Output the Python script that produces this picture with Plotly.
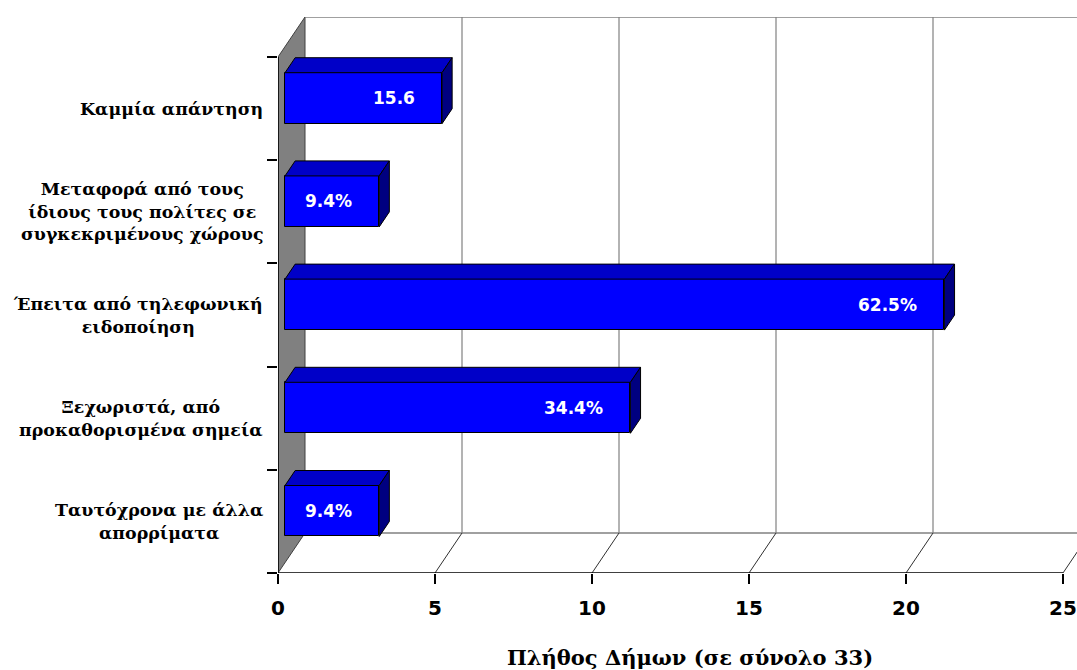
import plotly.graph_objects as go

# Survey answers (bottom to top) and number of municipalities per answer
categories = [
    "Ταυτόχρονα με άλλα<br>απορρίματα",
    "Ξεχωριστά, από<br>προκαθορισμένα σημεία",
    "Έπειτα από τηλεφωνική<br>ειδοποίηση",
    "Μεταφορά από τους<br>ίδιους τους πολίτες σε<br>συγκεκριμένους χώρους",
    "Καμμία απάντηση",
]
counts = [3, 11, 21, 3, 5]
value_labels = ["9.4%", "34.4%", "62.5%", "9.4%", "15.6"]
x_ticks = [0, 5, 10, 15, 20, 25]
x_title = "Πλήθος Δήμων (σε σύνολο 33)"

# Pseudo-3D geometry (in axis units)
W, H = 1077, 670
L, R, T, B = 278, 0, 17, 97
PX_X = 31.4                      # pixels per x unit
PX_Y = (H - T - B) / 5.388       # pixels per y unit
DX = 27 / PX_X                   # full depth, x shift
DY = 40 / PX_Y                   # full depth, y shift
X_MAX = (W - L - R) / PX_X
Y_MAX = 5 + DY
F0, F1 = 0.26, 0.635             # bar front / back depth
HALF = 0.247                     # half bar thickness
N = len(categories)

WALL = "#808080"
GRID = "#808080"
FRONT = "#0000FF"
TOP = "#0000C8"
SIDE = "#000080"

shapes = []
# left wall
shapes.append(dict(type="path", xref="x", yref="y", layer="below",
                   path=f"M 0 0 L 0 {N} L {DX} {N + DY} L {DX} {DY} Z",
                   fillcolor=WALL, line=dict(color="#404040", width=1)))
# back wall frame
shapes.append(dict(type="line", xref="x", yref="y", layer="below",
                   x0=DX, x1=X_MAX + DX, y0=N + DY, y1=N + DY,
                   line=dict(color=GRID, width=1.5)))
shapes.append(dict(type="line", xref="x", yref="y", layer="below",
                   x0=DX, x1=X_MAX + DX, y0=DY, y1=DY,
                   line=dict(color=GRID, width=1.5)))
for k in x_ticks[1:]:
    # vertical grid on back wall
    shapes.append(dict(type="line", xref="x", yref="y", layer="below",
                       x0=k + DX, x1=k + DX, y0=DY, y1=N + DY,
                       line=dict(color=GRID, width=1.2)))
    # floor grid
    shapes.append(dict(type="line", xref="x", yref="y", layer="below",
                       x0=k, x1=k + DX, y0=0, y1=DY,
                       line=dict(color="#303030", width=1)))
# front axis lines
shapes.append(dict(type="line", xref="x", yref="y", layer="below",
                   x0=0, x1=x_ticks[-1], y0=0, y1=0,
                   line=dict(color="black", width=1.5)))
shapes.append(dict(type="line", xref="x", yref="y", layer="below",
                   x0=0, x1=0, y0=0, y1=N,
                   line=dict(color="black", width=1.5)))

# bar top and side faces
centers = [i + 0.5 for i in range(N)]
dd = (F1 - F0) * DY
ddx = (F1 - F0) * DX
for c, v in zip(centers, counts):
    yt = c + HALF + F0 * DY
    yb = c - HALF + F0 * DY
    xs = F0 * DX
    xe = v + F0 * DX
    shapes.append(dict(type="path", xref="x", yref="y", layer="above",
                       path=f"M {xs} {yt} L {xs + ddx} {yt + dd} L {xe + ddx} {yt + dd} L {xe} {yt} Z",
                       fillcolor=TOP, line=dict(color="black", width=1)))
    shapes.append(dict(type="path", xref="x", yref="y", layer="above",
                       path=f"M {xe} {yb} L {xe} {yt} L {xe + ddx} {yt + dd} L {xe + ddx} {yb + dd} Z",
                       fillcolor=SIDE, line=dict(color="black", width=1)))

fig = go.Figure()
fig.add_trace(go.Bar(
    y=[c + F0 * DY for c in centers], x=counts, base=F0 * DX,
    orientation="h", width=2 * HALF,
    marker=dict(color=FRONT, line=dict(color="black", width=1)),
    hoverinfo="skip", showlegend=False,
))

annotations = []
for c, v, t in zip(centers, counts, value_labels):
    annotations.append(dict(x=v + F0 * DX - 0.8, y=c + F0 * DY, xref="x", yref="y",
                            text=t, showarrow=False, xanchor="right", yanchor="middle",
                            font=dict(family="DejaVu Sans", size=17, color="white", weight="bold")))
for c, t in zip(centers, categories):
    annotations.append(dict(x=-(13 / (W - L - R)), y=c, xref="paper", yref="y",
                            text=t, showarrow=False, xanchor="right", yanchor="middle",
                            align="center",
                            font=dict(family="DejaVu Serif", size=17.4, color="black", weight="bold")))
annotations.append(dict(x=(690 - L) / (W - L - R), y=-(657 - (H - B)) / (H - T - B),
                        xref="paper", yref="paper", text=x_title, showarrow=False,
                        xanchor="center", yanchor="middle",
                        font=dict(family="DejaVu Serif", size=21, color="black", weight="bold")))

fig.update_layout(
    width=W, height=H,
    margin=dict(l=L, r=R, t=T, b=B),
    plot_bgcolor="white", paper_bgcolor="white",
    shapes=shapes, annotations=annotations,
    xaxis=dict(range=[0, X_MAX], tickvals=x_ticks, ticks="outside", ticklen=10,
               tickcolor="black", tickwidth=1.5, showgrid=False, zeroline=False,
               showline=False, fixedrange=True, ticklabelstandoff=7,
               tickfont=dict(family="DejaVu Sans", size=20, color="black", weight="bold")),
    yaxis=dict(range=[0, Y_MAX], tickvals=list(range(N + 1)), ticktext=[""] * (N + 1),
               ticks="outside", ticklen=10, tickcolor="black", tickwidth=1.5,
               showgrid=False, zeroline=False, showline=False, fixedrange=True),
    bargap=0,
)

fig.write_html("out.html")
